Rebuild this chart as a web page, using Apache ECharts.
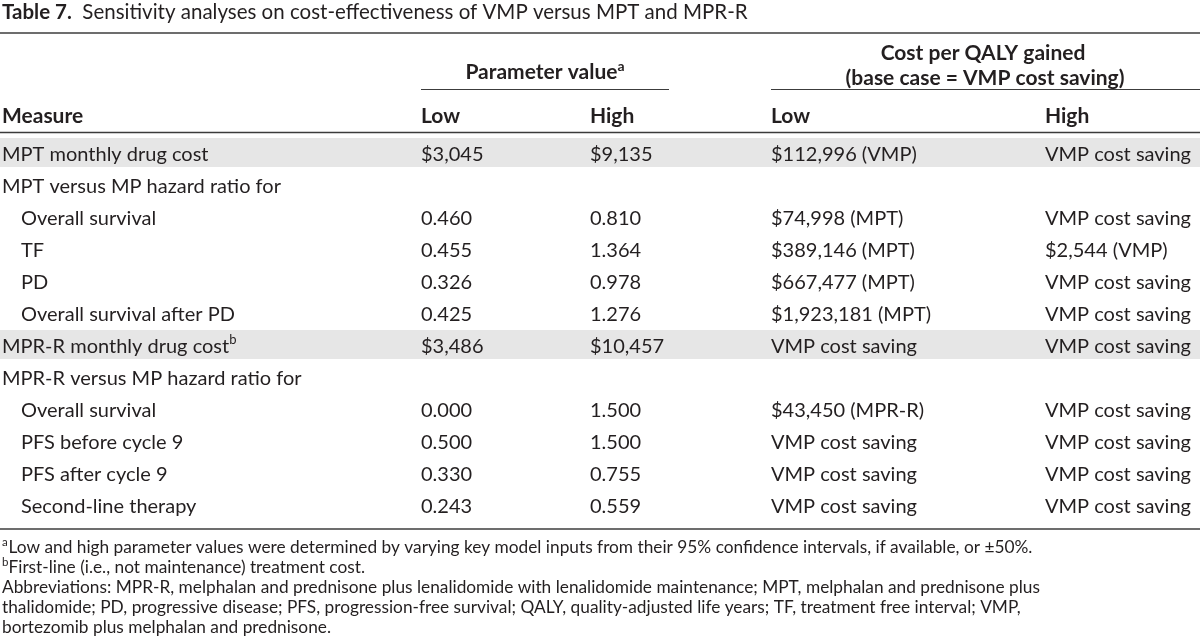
<!DOCTYPE html>
<html><head><meta charset="utf-8">
<script src="https://cdn.jsdelivr.net/npm/echarts@6/dist/echarts.min.js"></script>
<style>html,body{margin:0;padding:0;background:#fff}#c{width:1200px;height:643px}</style>
</head><body><div id="c"></div>
<script>
// ---- data ----
const titleLabel = 'Table 7.';
const titleText = 'Sensitivity analyses on cost-effectiveness of VMP versus MPT and MPR-R';
const measures = ['MPT monthly drug cost', 'MPT versus MP hazard ratio for', 'Overall survival', 'TF', 'PD',
  'Overall survival after PD', 'MPR-R monthly drug cost', 'MPR-R versus MP hazard ratio for',
  'Overall survival', 'PFS before cycle 9', 'PFS after cycle 9', 'Second-line therapy'];
const measureNotes = ['', '', '', '', '', '', 'b', '', '', '', '', ''];
const rowLevel = [0, 0, 1, 1, 1, 1, 0, 0, 1, 1, 1, 1];
const shadedRows = [0, 6];
const paramLow = ['$3,045', '', '0.460', '0.455', '0.326', '0.425', '$3,486', '', '0.000', '0.500', '0.330', '0.243'];
const paramHigh = ['$9,135', '', '0.810', '1.364', '0.978', '1.276', '$10,457', '', '1.500', '1.500', '0.755', '0.559'];
const costLow = ['$112,996 (VMP)', '', '$74,998 (MPT)', '$389,146 (MPT)', '$667,477 (MPT)', '$1,923,181 (MPT)',
  'VMP cost saving', '', '$43,450 (MPR-R)', 'VMP cost saving', 'VMP cost saving', 'VMP cost saving'];
const costHigh = ['VMP cost saving', '', 'VMP cost saving', '$2,544 (VMP)', 'VMP cost saving', 'VMP cost saving',
  'VMP cost saving', '', 'VMP cost saving', 'VMP cost saving', 'VMP cost saving', 'VMP cost saving'];
const columnHeaders = ['Measure', 'Low', 'High', 'Low', 'High'];
const paramGroupHeader = ['Parameter value', 'a'];
const costGroupHeader = ['Cost per QALY gained', '(base case = VMP cost saving)'];
const footnotes = [
  ['a', 'Low and high parameter values were determined by varying key model inputs from their 95% confidence intervals, if available, or \u00b150%.'],
  ['b', 'First-line (i.e., not maintenance) treatment cost.'],
  ['', 'Abbreviations: MPR-R, melphalan and prednisone plus lenalidomide with lenalidomide maintenance; MPT, melphalan and prednisone plus'],
  ['', 'thalidomide; PD, progressive disease; PFS, progression-free survival; QALY, quality-adjusted life years; TF, treatment free interval; VMP,'],
  ['', 'bortezomib plus melphalan and prednisone.']
];

// ---- layout / style ----
const FONT = 'Lato, "Open Sans", sans-serif';
const FS = 20, FH = 21, FT = 20.5, FN = 17.3;
const INK = '#231f20', RULE = '#3c3c3c', BAND = '#e6e6e6';
const COL_X = [2, 421, 590, 771, 1045];
const INDENT = 19;

function rich(size) {
  const ss = Math.round(size * 0.66);
  return {
    m: {fontSize: size, fontFamily: FONT, fill: INK, lineHeight: 24, verticalAlign: 'bottom'},
    b: {fontSize: size, fontFamily: FONT, fill: INK, fontWeight: 'bold', lineHeight: 24, verticalAlign: 'bottom'},
    s: {fontSize: ss, fontFamily: FONT, fill: INK, lineHeight: 17, verticalAlign: 'top'},
    bs: {fontSize: ss, fontFamily: FONT, fill: INK, fontWeight: 'bold', lineHeight: 17, verticalAlign: 'top'}
  };
}
function txt(x, y, text, opt) {
  opt = opt || {};
  const size = opt.size || FS;
  return {
    type: 'text', x: x, y: y, silent: true,
    style: {
      text: text, fill: INK, fontFamily: FONT, fontSize: size,
      align: opt.align || 'left', verticalAlign: 'middle',
      rich: rich(size)
    }
  };
}
function plain(x, y, text, size) {
  return {type: 'text', x: x, y: y, silent: true,
    style: {text: text, fill: INK, fontFamily: FONT, fontSize: size, align: 'left', verticalAlign: 'middle'}};
}
const M = s => '{m|' + s + '}', B = s => '{b|' + s + '}', S = s => s ? '{s|' + s + '}' : '', BS = s => s ? '{bs|' + s + '}' : '';
function rule(x1, x2, y, w) {
  return {type: 'line', silent: true, shape: {x1: x1, y1: y, x2: x2, y2: y},
    style: {stroke: RULE, lineWidth: w || 1.3}};
}

const graphics = [
  txt(2, 11, B(titleLabel) + M('  ' + titleText), {size: FT}),
  rule(0, 1200, 33, 1.6),
  txt(545, 71, B(paramGroupHeader[0]) + BS(paramGroupHeader[1]), {align: 'center', size: FH}),
  txt(983, 52, B(costGroupHeader[0]), {align: 'center', size: FH}),
  txt(985, 77, B(costGroupHeader[1]), {align: 'center', size: FH}),
  rule(421, 669, 89.5, 1.2),
  rule(771, 1200, 89.5, 1.2),
  rule(0, 1200, 132.5, 1.3),
  rule(0, 1200, 529, 1.3)
];
columnHeaders.forEach((h, i) => graphics.push(txt(COL_X[i], 115, B(h), {size: FH})));
footnotes.forEach((f, i) => {
  const y = 547 + i * 20;
  if (f[0]) graphics.push(plain(2, y - 5, f[0], 11.5));
  graphics.push(plain(f[0] ? 8.5 : 2, y, f[1], FN));
});

const chart = echarts.init(document.getElementById('c'), null, {renderer: 'canvas'});
chart.setOption({
  animation: false,
  backgroundColor: '#fff',
  grid: {left: 0, right: 0, top: 137, height: 384},
  xAxis: {type: 'value', min: 0, max: 1200, show: false},
  yAxis: {type: 'category', data: measures, inverse: true, show: false},
  graphic: graphics,
  series: [
    {
      type: 'custom', silent: true,
      data: shadedRows.map(r => [0, r]),
      encode: {x: 0, y: 1},
      renderItem: function (params, api) {
        const p0 = api.coord([0, api.value(1)]);
        const p1 = api.coord([1200, api.value(1)]);
        const h = api.size([0, 1])[1] - 3;
        return {type: 'rect', shape: {x: p0[0], y: p0[1] - h / 2 - 0.5, width: p1[0] - p0[0], height: h},
          style: {fill: BAND}};
      }
    },
    {
      type: 'custom', silent: true,
      data: measures.map((m, i) => [0, i]),
      encode: {x: 0, y: 1},
      renderItem: function (params, api) {
        const r = api.value(1);
        const cells = [
          M(measures[r]) + S(measureNotes[r]),
          paramLow[r] && M(paramLow[r]), paramHigh[r] && M(paramHigh[r]),
          costLow[r] && M(costLow[r]), costHigh[r] && M(costHigh[r])
        ];
        const children = [];
        cells.forEach((c, ci) => {
          if (!c) return;
          const x = COL_X[ci] + (ci === 0 ? rowLevel[r] * INDENT : 0);
          const p = api.coord([x, r]);
          children.push(txt(p[0], p[1], c));
        });
        return {type: 'group', children: children};
      }
    }
  ]
});
</script>
</body></html>
